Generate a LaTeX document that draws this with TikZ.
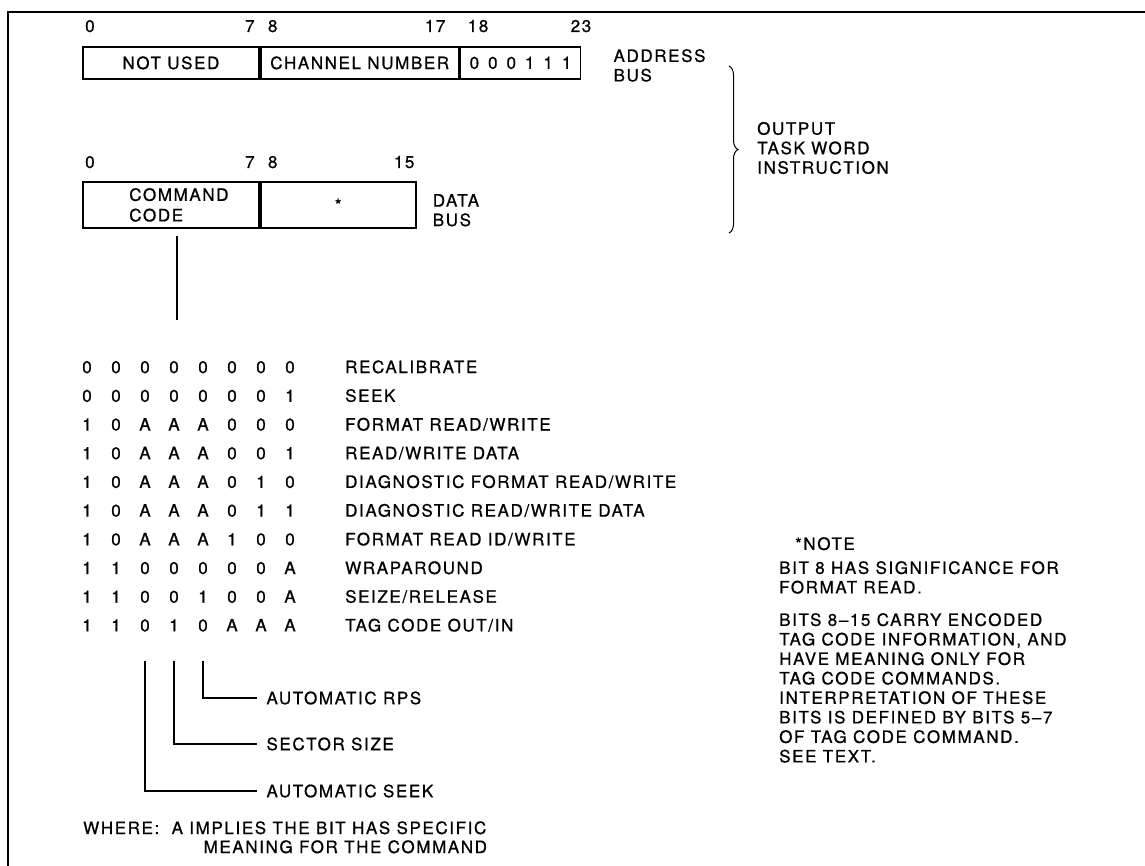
\documentclass[tikz,border=0pt]{standalone}
\usepackage{fontspec}
\setmainfont{TeX Gyre Heros}[LetterSpace=9.5, FakeBold=0.8]
\usetikzlibrary{decorations.pathreplacing}

\tikzset{
  field/.style={draw, line width=1.8pt, inner sep=0pt, anchor=north west},
  bitnum/.style={inner sep=0pt},
  tabtext/.style={inner sep=0pt, text height=12.2pt, text depth=0pt},
  lead/.style={line width=1.2pt},
}

\begin{document}
\begin{tikzpicture}[x=1pt, y=-1pt, every node/.style={font=\fontsize{17}{19.5}\selectfont}]
  \useasboundingbox (0,0) rectangle (1145,866);
  % frame (top and left only)
  \draw[line width=1.5pt] (1145,12) -- (8,12) -- (8,866);

  % address bus word
  \node[field, minimum width=176, minimum height=32] (notused) at (82,46) {NOT USED};
  \node[field, minimum width=198, minimum height=32] (channel) at (notused.north east) {CHANNEL NUMBER};
  \node[field, minimum width=120, minimum height=32] (devcode) at (channel.north east)
    {0\hspace{9pt}0\hspace{9pt}0\hspace{9pt}1\hspace{9pt}1\hspace{9pt}1};
  \node[bitnum, anchor=base west] (a0) at ([xshift=3pt, yshift=14pt]notused.north west) {0};
  \node[bitnum, anchor=base east] (a7) at ([xshift=-5pt, yshift=14pt]notused.north east) {7};
  \node[bitnum, anchor=base west] (a8) at ([xshift=8pt, yshift=14pt]channel.north west) {8};
  \node[bitnum, anchor=base east] (a17) at ([xshift=-14pt, yshift=14pt]channel.north east) {17};
  \node[bitnum, anchor=base west] (a18) at ([xshift=8pt, yshift=14pt]devcode.north west) {18};
  \node[bitnum, anchor=base east] (a23) at ([xshift=10pt, yshift=14pt]devcode.north east) {23};
  \node[anchor=north west, align=left, inner sep=0pt] (addrbus) at ([xshift=32pt, yshift=-3pt]devcode.north east) {ADDRESS\\BUS};

  % data bus word
  \node[field, minimum width=176, minimum height=46, align=left] (cmdcode) at (82,181)
    {\hspace*{16pt}COMMAND\\[1pt]\hspace*{16pt}CODE};
  \node[field, minimum width=155, minimum height=46] (datafld) at (cmdcode.north east) {*};
  \node[bitnum, anchor=base west] (d0) at ([xshift=3pt, yshift=13pt]cmdcode.north west) {0};
  \node[bitnum, anchor=base east] (d7) at ([xshift=-5pt, yshift=13pt]cmdcode.north east) {7};
  \node[bitnum, anchor=base west] (d8) at ([xshift=8pt, yshift=13pt]datafld.north west) {8};
  \node[bitnum, anchor=base east] (d15) at ([xshift=-2pt, yshift=13pt]datafld.north east) {15};
  \node[anchor=north west, align=left, inner sep=0pt] (databus) at ([xshift=16pt, yshift=-13pt]datafld.north east) {DATA\\BUS};

  % brace
  \coordinate (bracetop) at (729,66);
  \coordinate (bracebot) at (729,233);
  \draw[line width=1pt, decorate, decoration={brace, amplitude=9pt}] (bracetop) -- (bracebot);
  \node[anchor=west, align=left, inner sep=0pt] (otwi) at (757,148) {OUTPUT\\TASK WORD\\INSTRUCTION};

  % stem down to the table
  \coordinate (stemtop) at (177,236);
  \coordinate (stembot) at (177,320);
  \draw[lead] (stemtop) -- (stembot);

  % command code table
  \foreach \bits/\cmd [count=\r] in {
      {0,0,0,0,0,0,0,0}/{RECALIBRATE},
      {0,0,0,0,0,0,0,1}/{SEEK},
      {1,0,A,A,A,0,0,0}/{FORMAT READ/WRITE},
      {1,0,A,A,A,0,0,1}/{READ/WRITE DATA},
      {1,0,A,A,A,0,1,0}/{DIAGNOSTIC FORMAT READ/WRITE},
      {1,0,A,A,A,0,1,1}/{DIAGNOSTIC READ/WRITE DATA},
      {1,0,A,A,A,1,0,0}/{FORMAT READ ID/WRITE},
      {1,1,0,0,0,0,0,A}/{WRAPAROUND},
      {1,1,0,0,1,0,0,A}/{SEIZE/RELEASE},
      {1,1,0,1,0,A,A,A}/{TAG CODE OUT/IN}} {
    \foreach \v [count=\c] in \bits
      \node[tabtext] (b\r-\c) at ({87+29*(\c-1)}, {367+28.7*(\r-1)}) {\v};
    \node[tabtext, anchor=west] (cmd\r) at (345, {367+28.7*(\r-1)}) {\cmd};
  }

  % bit meanings
  \node[anchor=west] (rps) at (263,698) {AUTOMATIC RPS};
  \node[anchor=west] (sector) at (263,744) {SECTOR SIZE};
  \node[anchor=west] (autoseek) at (263,791) {AUTOMATIC SEEK};
  \draw[lead, shorten >=6pt] ([yshift=-29pt]b10-5.south) |- (rps.west);
  \draw[lead, shorten >=6pt] ([yshift=-29pt]b10-4.south) |- (sector.west);
  \draw[lead, shorten >=6pt] ([yshift=-29pt]b10-3.south) |- (autoseek.west);

  \node[anchor=base west, inner sep=0pt] (where) at (83,834) {WHERE:};
  \node[anchor=base west, inner sep=0pt] (wheretxt) at ([xshift=12pt]where.base east) {A IMPLIES THE BIT HAS SPECIFIC};
  \node[anchor=base west, inner sep=0pt] (wheretxt2) at ([xshift=32pt, yshift=-19pt]wheretxt.base west) {MEANING FOR THE COMMAND};

  % note
  \node[anchor=north west, inner sep=0pt] (note) at (795,537) {*NOTE};
  \node[anchor=north west, align=left, inner sep=0pt] (notea) at (779,561)
    {BIT 8 HAS SIGNIFICANCE FOR\\FORMAT READ.};
  \node[anchor=north west, align=left, inner sep=0pt] (noteb) at (779,613)
    {BITS 8\textendash 15 CARRY ENCODED\\TAG CODE INFORMATION, AND\\HAVE MEANING ONLY FOR\\TAG CODE COMMANDS.\\INTERPRETATION OF THESE\\BITS IS DEFINED BY BITS 5\textendash 7\\OF TAG CODE COMMAND.\\SEE TEXT.};
\end{tikzpicture}
\end{document}
